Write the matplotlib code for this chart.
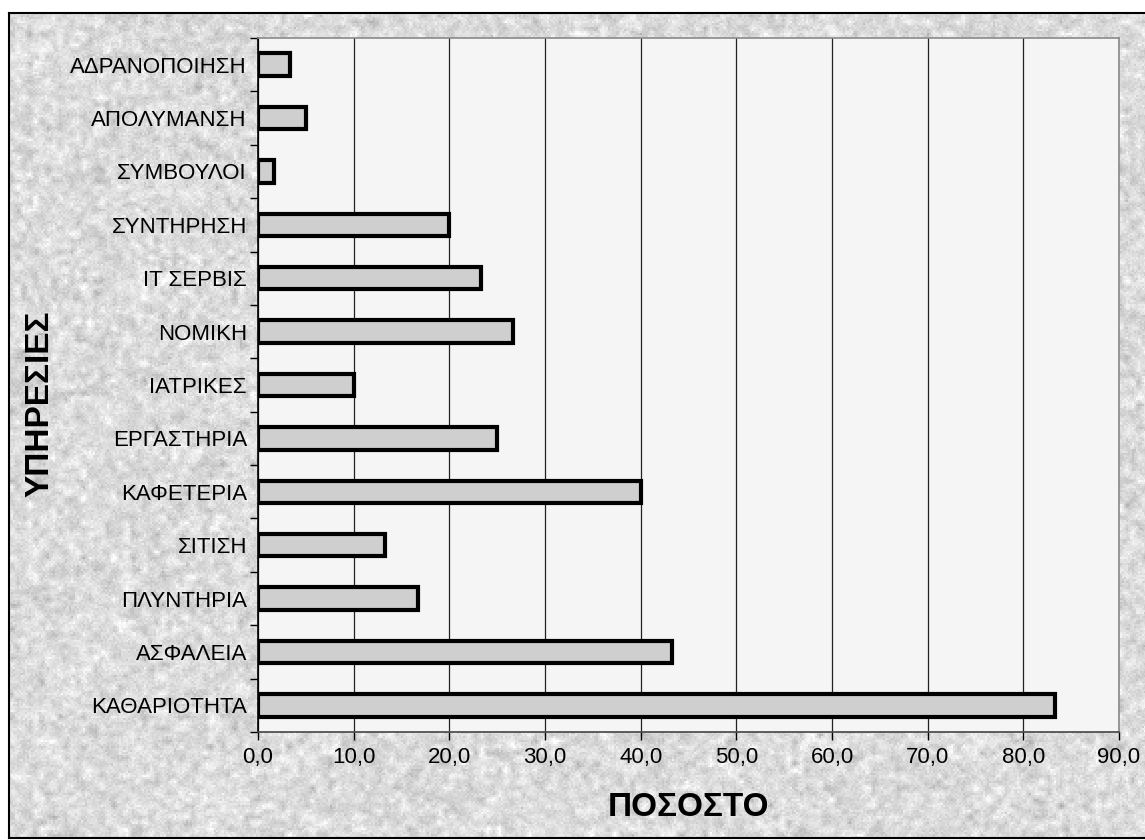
import numpy as np
import matplotlib
matplotlib.use("Agg")
import matplotlib.pyplot as plt

plt.rcParams['font.family'] = ['Liberation Sans', 'DejaVu Sans']

# services, listed top to bottom
services = ['ΑΔΡΑΝΟΠΟΙΗΣΗ', 'ΑΠΟΛΥΜΑΝΣΗ', 'ΣΥΜΒΟΥΛΟΙ', 'ΣΥΝΤΗΡΗΣΗ', 'ΙΤ ΣΕΡΒΙΣ',
            'ΝΟΜΙΚΗ', 'ΙΑΤΡΙΚΕΣ', 'ΕΡΓΑΣΤΗΡΙΑ', 'ΚΑΦΕΤΕΡΙΑ', 'ΣΙΤΙΣΗ',
            'ΠΛΥΝΤΗΡΙΑ', 'ΑΣΦΑΛΕΙΑ', 'ΚΑΘΑΡΙΟΤΗΤΑ']
percent = [3.3, 5.0, 1.7, 20.0, 23.3, 26.7, 10.0, 25.0, 40.0, 13.3, 16.7, 43.3, 83.3]
xticks = [0, 10, 20, 30, 40, 50, 60, 70, 80, 90]

fig = plt.figure(figsize=(11.45, 8.4), dpi=100)
fig.patch.set_facecolor('white')

# light grey speckled backdrop with a black frame
bg = fig.add_axes([9 / 1145, 2 / 840, 1.0, 825 / 840], zorder=0)
rng = np.random.default_rng(7)
coarse = rng.normal(0.0, 1.0, (140, 190))
coarse = np.kron(coarse, np.ones((3, 3)))
k = np.ones(3) / 3
coarse = np.apply_along_axis(lambda r: np.convolve(r, k, mode='same'), 0, coarse)
coarse = np.apply_along_axis(lambda r: np.convolve(r, k, mode='same'), 1, coarse)
fine = rng.normal(0.0, 1.0, coarse.shape)
tex = 0.86 + 0.035 * coarse / coarse.std() + 0.025 * fine
bg.imshow(np.clip(tex, 0, 1), cmap='gray', vmin=0, vmax=1, aspect='auto',
          interpolation='nearest')
bg.set_xticks([])
bg.set_yticks([])
for s in bg.spines.values():
    s.set_linewidth(1.5)
    s.set_color('black')

ax = fig.add_axes([258 / 1145, 108 / 840, 861 / 1145, 694 / 840], zorder=1)
ax.set_facecolor('#f5f5f5')

y = np.arange(len(services))
ax.barh(y, percent, height=0.42, color='#cfcfcf', edgecolor='black',
        linewidth=3, zorder=3)

ax.set_xlim(0, 90)
ax.set_ylim(len(services) - 0.5, -0.5)
ax.set_xticks(xticks)
ax.set_xticklabels([f'{v:.1f}'.replace('.', ',') for v in xticks])
ax.set_yticks(y)
ax.set_yticklabels(services)
ax.set_yticks(np.arange(-0.5, len(services)), minor=True)
ax.tick_params(axis='y', which='major', length=0, pad=8, labelsize=16)
ax.tick_params(axis='y', which='minor', length=6, width=1, direction='out')
ax.tick_params(axis='x', length=6, width=1, direction='out', pad=5, labelsize=16)

ax.grid(axis='x', color='#222222', linewidth=0.9, zorder=1)
ax.set_axisbelow(True)

for side in ['top', 'right']:
    ax.spines[side].set_color('#8a8a8a')
    ax.spines[side].set_linewidth(1.2)
ax.spines['left'].set_color('black')
ax.spines['bottom'].set_color('#444444')
ax.spines['left'].set_linewidth(1.2)
ax.spines['bottom'].set_linewidth(1.2)

fig.text(688 / 1145, 1 - 808 / 840, 'ΠΟΣΟΣΤΟ', fontsize=24, fontweight='bold',
         ha='center', va='center')
fig.text(40 / 1145, 1 - 404 / 840, 'ΥΠΗΡΕΣΙΕΣ', fontsize=24, fontweight='bold',
         rotation=90, ha='center', va='center')

fig.savefig('out.png', dpi=100)
